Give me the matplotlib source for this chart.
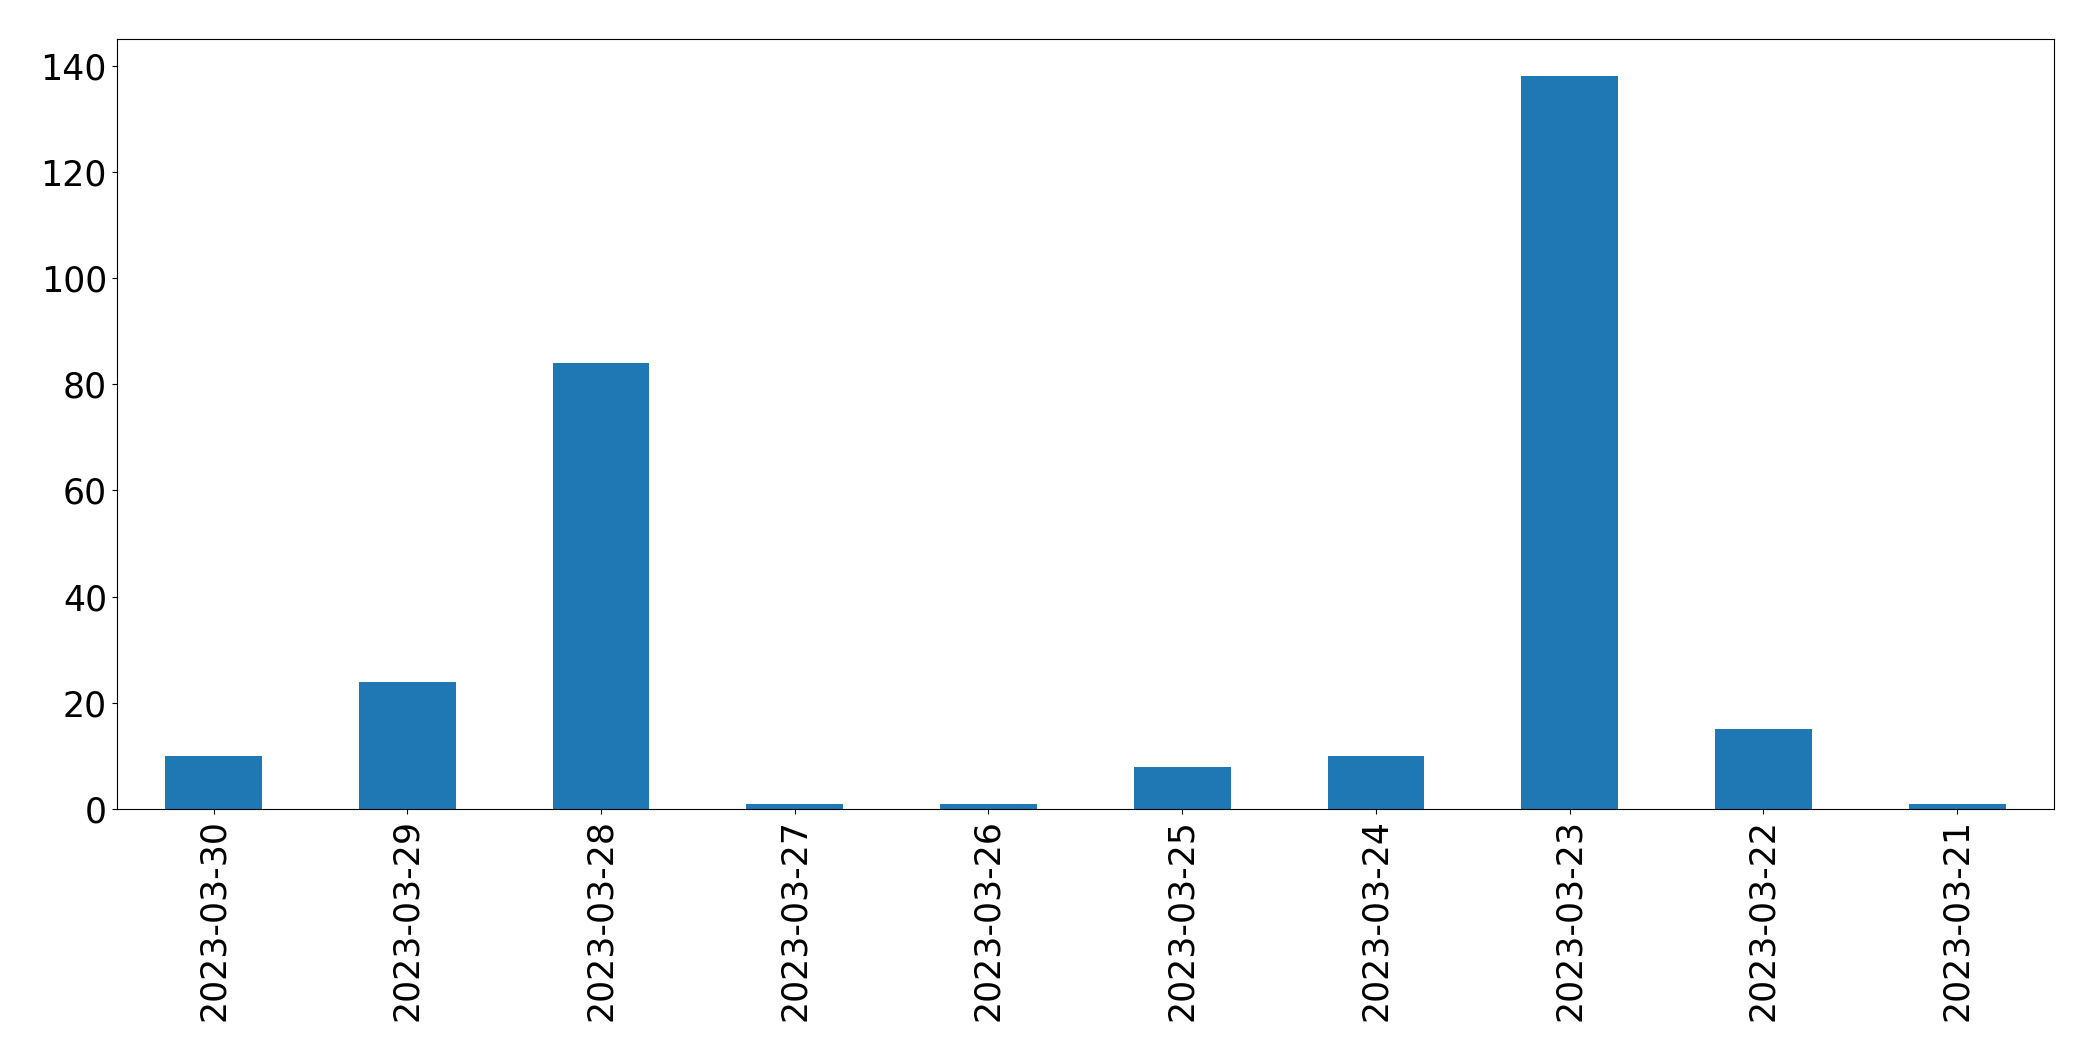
import matplotlib
matplotlib.use("Agg")
import matplotlib.pyplot as plt

dates = ["2023-03-30", "2023-03-29", "2023-03-28", "2023-03-27", "2023-03-26",
         "2023-03-25", "2023-03-24", "2023-03-23", "2023-03-22", "2023-03-21"]
counts = [10, 24, 84, 1, 1, 8, 10, 138, 15, 1]

fig = plt.figure(figsize=(20.93, 10.61), dpi=100)
ax = fig.add_axes([116.7 / 2093, 1 - 809 / 1061, (2054 - 116.7) / 2093, (809 - 39) / 1061])
x = list(range(len(dates)))
ax.bar(x, counts, width=0.5, color="#1f77b4")
ax.set_xlim(-0.5, len(dates) - 0.5)
ax.set_ylim(0, 145)
ax.set_xticks(x)
ax.set_xticklabels(dates, rotation=90)
ax.set_yticks(range(0, 141, 20))
ax.tick_params(labelsize=25)
fig.savefig("out.png", dpi=100)
